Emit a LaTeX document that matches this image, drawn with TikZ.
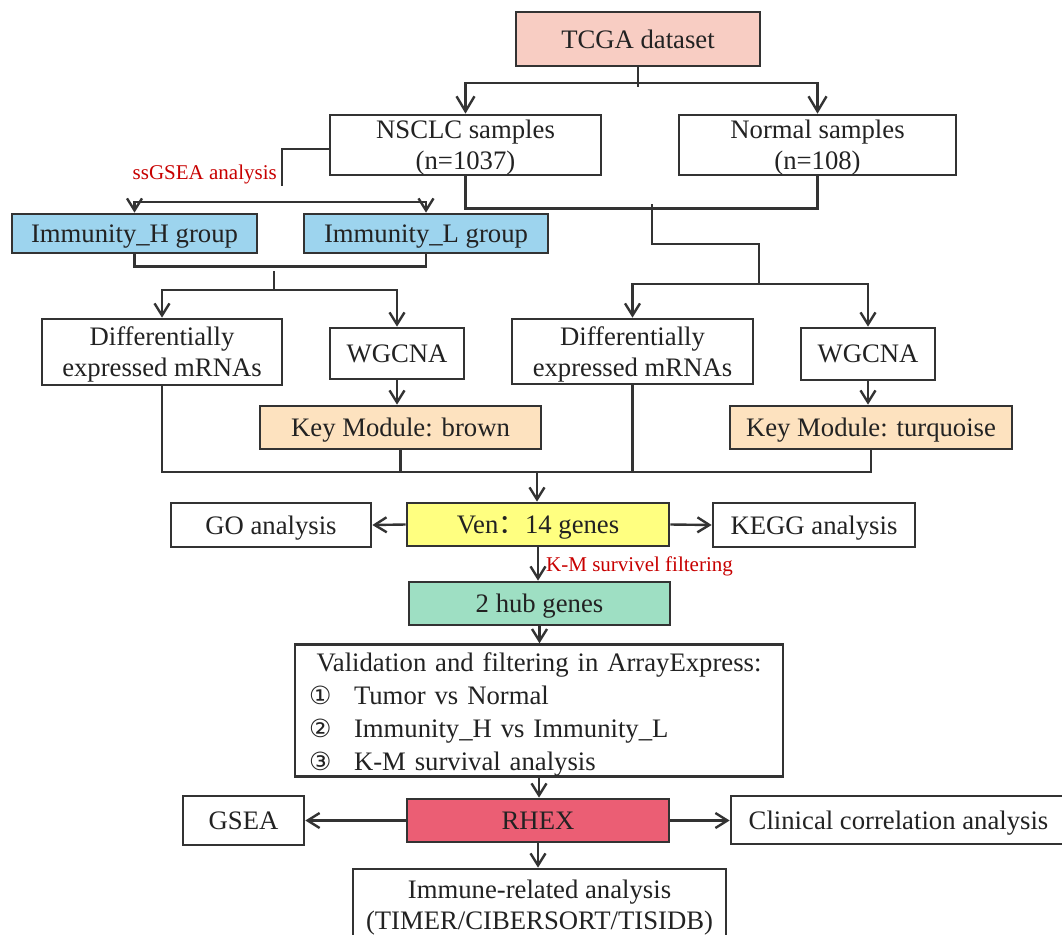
\documentclass[tikz,border=0pt]{standalone}
\usepackage{fontspec}
\setmainfont{Liberation Serif}
\newfontfamily\cjkfont{Noto Sans CJK SC}
\newfontfamily\circfont{DejaVu Sans}
\usetikzlibrary{arrows.meta}
\definecolor{linec}{HTML}{333333}
\definecolor{textc}{HTML}{222222}
\definecolor{redc}{HTML}{C80000}
\definecolor{tcgafill}{HTML}{F8CDC3}
\definecolor{immfill}{HTML}{9DD4EE}
\definecolor{keyfill}{HTML}{FDE2BF}
\definecolor{venfill}{HTML}{FFFF80}
\definecolor{hubfill}{HTML}{9EDFC3}
\definecolor{rhexfill}{HTML}{EB5E74}
\newcommand\bigsize{\fontsize{26.7}{31}\selectfont}
\newcommand\labsize{\fontsize{21}{24}\selectfont}
\newcommand\circsize{\fontsize{25}{30}\selectfont}
\begin{document}
\begin{tikzpicture}[x=1pt,y=-1pt,
  box/.style={draw=linec, line width=2.7pt, inner sep=0pt, align=center, text=textc, font=\bigsize, text depth=0pt},
  conn/.style={draw=linec, line width=2.4pt},
  arr/.style={conn, -{Straight Barb[length=12pt,width=15pt]}},
  bigarr/.style={conn, -{Straight Barb[length=15pt,width=18pt]}},
  lab/.style={inner sep=0pt, text=redc, font=\labsize}]
\useasboundingbox (0,0) rectangle (1062,934);
\fill[white] (0,0) rectangle (1062,934);

% nodes
\node[box, fill=tcgafill, minimum width=244pt, minimum height=54pt] (tcga) at (638,39) {TCGA dataset};
\node[box, minimum width=271pt, minimum height=60pt] (nsclc) at (465.5,145) {NSCLC samples\\(n=1037)};
\node[box, minimum width=277pt, minimum height=60pt] (normal) at (817.5,145) {Normal samples\\(n=108)};
\node[box, fill=immfill, minimum width=245pt, minimum height=39pt] (immH) at (134.5,233.5) {Immunity\_H group};
\node[box, fill=immfill, minimum width=244pt, minimum height=39pt] (immL) at (426,233.5) {Immunity\_L group};
\node[box, minimum width=240pt, minimum height=66pt] (diffA) at (162,352) {Differentially\\expressed mRNAs};
\node[box, minimum width=134pt, minimum height=51pt] (wgA) at (397,353.5) {WGCNA};
\node[box, fill=keyfill, minimum width=281pt, minimum height=43pt] (keyA) at (400.5,427.5) {Key Module: brown};
\node[box, minimum width=241pt, minimum height=65pt] (diffB) at (632.5,351.5) {Differentially\\expressed mRNAs};
\node[box, minimum width=134pt, minimum height=52pt] (wgB) at (868,354) {WGCNA};
\node[box, fill=keyfill, minimum width=282pt, minimum height=43pt] (keyB) at (871,427.5) {Key Module: turquoise};
\node[box, fill=venfill, minimum width=262pt, minimum height=43pt] (ven) at (538,524.5) {Ven{\cjkfont ：}14 genes};
\node[box, minimum width=200pt, minimum height=44pt] (go) at (271,525) {GO analysis};
\node[box, minimum width=202pt, minimum height=44pt] (kegg) at (814,525) {KEGG analysis};
\node[box, fill=hubfill, minimum width=261pt, minimum height=43pt] (hub) at (539.5,603.5) {2 hub genes};
\node[box, text depth=, minimum width=488pt, minimum height=131pt, text width=460pt, inner xsep=14pt, align=left, font=\fontsize{26.7}{33}\selectfont] (valid) at (539,710.5)
  {\rule{0pt}{27pt}\makebox[460pt][c]{Validation and filtering in ArrayExpress:}\\
   \makebox[45pt][l]{\circsize\circfont ①}Tumor vs Normal\\
   \makebox[45pt][l]{\circsize\circfont ②}Immunity\_H vs Immunity\_L\\
   \makebox[45pt][l]{\circsize\circfont ③}K-M survival analysis};
\node[box, fill=rhexfill, minimum width=262pt, minimum height=43pt] (rhex) at (538,820.5) {RHEX};
\node[box, minimum width=121pt, minimum height=49pt] (gsea) at (243.5,820.5) {GSEA};
\node[box, minimum width=335pt, minimum height=48pt] (clin) at (898.5,820) {Clinical correlation analysis};
\node[box, minimum width=373pt, minimum height=72pt] (immune) at (539.5,905) {Immune-related analysis\\(TIMER/CIBERSORT/TISIDB)};

% labels
\node[lab, anchor=east] (sslab) at (277,174) {ssGSEA analysis};
\node[lab, anchor=west] (kmlab) at (546,566) {K-M survivel filtering};

% junction coordinates
\coordinate (tcgaJ) at (638,83);
\coordinate (tcgaEnd) at (638,87);
\coordinate (ssEnd) at (282,186);
\coordinate (immBar) at (282,202);
\coordinate (mergeA) at (274,271);
\coordinate (splitA) at (274,290);
\coordinate (nmTop) at (652,204);
\coordinate (nmMid) at (652,244);
\coordinate (splitB) at (759,284);
\coordinate (vennJ) at (537,472);

% connectors
\draw[conn] (tcga.south) -- (tcgaEnd);
\draw[bigarr] (tcgaJ) -| (nsclc.north);
\draw[bigarr] (tcgaJ) -| (normal.north);

\draw[conn] ([yshift=-4pt]nsclc.west) -| (ssEnd);
\draw[arr] (immBar) -| (immH.north);
\draw[arr] (immBar) -| (immL.north);

\draw[conn] (immH.south) |- ([yshift=-12pt]immL.south) -- (immL.south);
\draw[conn] (mergeA) -- (splitA);
\draw[arr] (splitA) -| (diffA.north);
\draw[arr] (splitA) -| (wgA.north);
\draw[arr] (wgA.south) -- (wgA.south |- keyA.north);

\draw[conn] (nsclc.south) |- ([yshift=-32pt]normal.south) -- (normal.south);
\draw[conn] (nmTop) -- (nmMid) -| (splitB);
\draw[arr] (splitB) -| (diffB.north);
\draw[arr] (splitB) -| (wgB.north);
\draw[arr] (wgB.south) -- (wgB.south |- keyB.north);

\draw[conn] (diffA.south) |- (vennJ);
\draw[conn] (keyA.south) -- (keyA.south |- vennJ);
\draw[conn] (diffB.south) |- (vennJ);
\draw[conn] (keyB.south) |- (vennJ);
\draw[arr] (vennJ) -- (vennJ |- ven.north);

\draw[arr] (ven.west) -- (go.east);
\draw[arr] (ven.east) -- (kegg.east -| kegg.west);
\draw[arr] (ven.south) -- (ven.south |- hub.north);
\draw[arr] (hub.south) -- (hub.south |- valid.north);
\draw[arr] (valid.south) -- (valid.south |- rhex.north);
\draw[arr] (rhex.west) -- (gsea.east);
\draw[arr] (rhex.east) -- (rhex.east -| clin.west);
\draw[arr] (rhex.south) -- (rhex.south |- immune.north);
\end{tikzpicture}
\end{document}
